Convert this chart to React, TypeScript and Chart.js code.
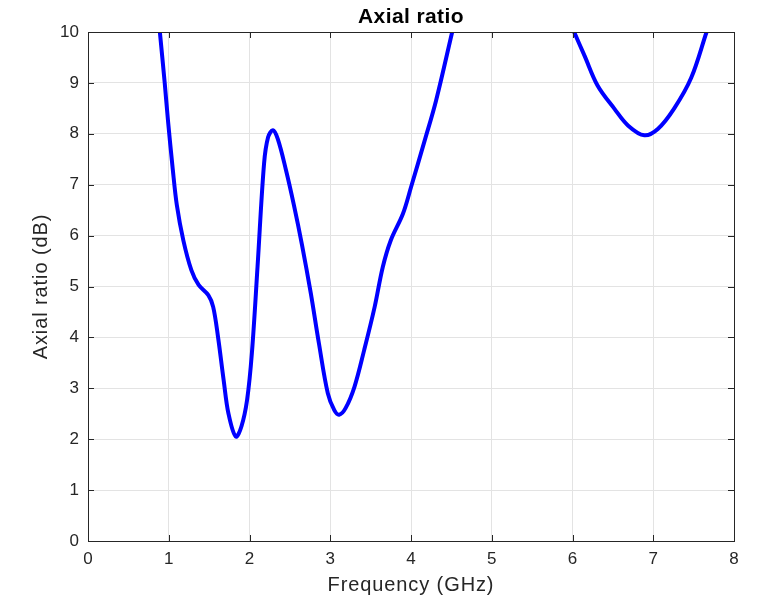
import React, { useEffect, useRef } from "react";
import { Chart, registerables } from "chart.js";

Chart.register(...registerables);

const freq1 = [0.89, 0.95, 0.99, 1.05, 1.1, 1.18, 1.28, 1.37, 1.49, 1.55, 1.61, 1.68, 1.74, 1.83, 1.9, 1.97, 2.03, 2.1, 2.18, 2.23, 2.29, 2.35, 2.45, 2.55, 2.65, 2.76, 2.86, 2.97, 3.05, 3.11, 3.19, 3.3, 3.42, 3.55, 3.65, 3.75, 3.9, 4.0, 4.17, 4.31, 4.51];
const ar1 = [10, 9, 8.27, 7.3, 6.6, 5.91, 5.32, 5.03, 4.83, 4.6, 4.01, 3.16, 2.5, 2.05, 2.25, 2.77, 3.7, 5.4, 7.41, 7.93, 8.07, 7.9, 7.3, 6.6, 5.82, 4.86, 3.88, 2.9, 2.57, 2.48, 2.61, 3.03, 3.75, 4.6, 5.38, 5.91, 6.43, 6.95, 7.87, 8.65, 10];
const freq2 = [6.02, 6.15, 6.31, 6.52, 6.69, 6.89, 7.06, 7.26, 7.47, 7.66];
const ar2 = [10, 9.53, 8.95, 8.49, 8.16, 7.97, 8.1, 8.5, 9.1, 10];

const titleText = "Axial ratio";
const xTitle = "Frequency (GHz)";
const yTitle = "Axial ratio (dB)";

const FONT = "'Liberation Sans', Arial, sans-serif";
const AXIS = "#262626";

const decorPlugin = {
  id: "decor",
  afterDraw(chart: any) {
    const { ctx, chartArea } = chart;
    const { left, right, top, bottom } = chartArea;
    ctx.save();
    ctx.strokeStyle = AXIS;
    ctx.lineWidth = 1;
    ctx.strokeRect(Math.round(left) + 0.5, Math.round(top) + 0.5, Math.round(right - left), Math.round(bottom - top));
    const xs = chart.scales.x;
    const ys = chart.scales.y;
    const tl = 6;
    ctx.beginPath();
    xs.ticks.forEach((t: any) => {
      const px = Math.round(xs.getPixelForValue(t.value)) + 0.5;
      ctx.moveTo(px, bottom);
      ctx.lineTo(px, bottom - tl);
      ctx.moveTo(px, top);
      ctx.lineTo(px, top + tl);
    });
    ys.ticks.forEach((t: any) => {
      const py = Math.round(ys.getPixelForValue(t.value)) + 0.5;
      ctx.moveTo(left, py);
      ctx.lineTo(left + tl, py);
      ctx.moveTo(right, py);
      ctx.lineTo(right - tl, py);
    });
    ctx.stroke();
    ctx.textAlign = "center";
    ctx.textBaseline = "middle";
    ctx.fillStyle = "#000";
    ctx.font = `bold 21px ${FONT}`;
    (ctx as any).letterSpacing = "0.4px";
    ctx.fillText(titleText, (left + right) / 2, 17);
    ctx.fillStyle = AXIS;
    ctx.font = `20px ${FONT}`;
    (ctx as any).letterSpacing = "0.9px";
    ctx.fillText(xTitle, (left + right) / 2, 585);
    ctx.translate(41, (top + bottom) / 2);
    ctx.rotate(-Math.PI / 2);
    ctx.fillText(yTitle, 0, 0);
    ctx.restore();
  },
};

export default function App() {
  const ref = useRef<HTMLCanvasElement>(null);
  useEffect(() => {
    if (!ref.current) return;
    const mk = (xs: number[], ys: number[]) => xs.map((x, i) => ({ x, y: ys[i] }));
    const ds = (data: any) => ({
      data,
      borderColor: "#0000ff",
      borderWidth: 4,
      pointRadius: 0,
      fill: false,
      tension: 0.35,
    });
    const chart = new Chart(ref.current, {
      type: "line",
      data: { datasets: [ds(mk(freq1, ar1)), ds(mk(freq2, ar2))] },
      options: {
        animation: false,
        responsive: false,
        devicePixelRatio: 1,
        layout: { padding: { top: 32, right: 23, left: 0, bottom: 0 } },
        plugins: { legend: { display: false }, tooltip: { enabled: false }, title: { display: false } },
        scales: {
          x: {
            type: "linear",
            min: 0,
            max: 8,
            afterFit: (s: any) => { s.height = 64; },
            ticks: { stepSize: 1, color: AXIS, font: { family: FONT, size: 17 }, padding: 8, maxRotation: 0 },
            grid: { color: "#e3e3e3", drawTicks: false },
            border: { display: false },
          },
          y: {
            type: "linear",
            min: 0,
            max: 10,
            afterFit: (s: any) => { s.width = 88; },
            ticks: { stepSize: 1, color: AXIS, font: { family: FONT, size: 17 }, padding: 9 },
            grid: { color: "#e3e3e3", drawTicks: false },
            border: { display: false },
          },
        },
      },
      plugins: [decorPlugin],
    });
    return () => chart.destroy();
  }, []);
  return (
    <div style={{ position: "absolute", left: 0, top: 0, width: 757, height: 605, background: "#fff" }}>
      <canvas ref={ref} width={757} height={605} />
    </div>
  );
}
